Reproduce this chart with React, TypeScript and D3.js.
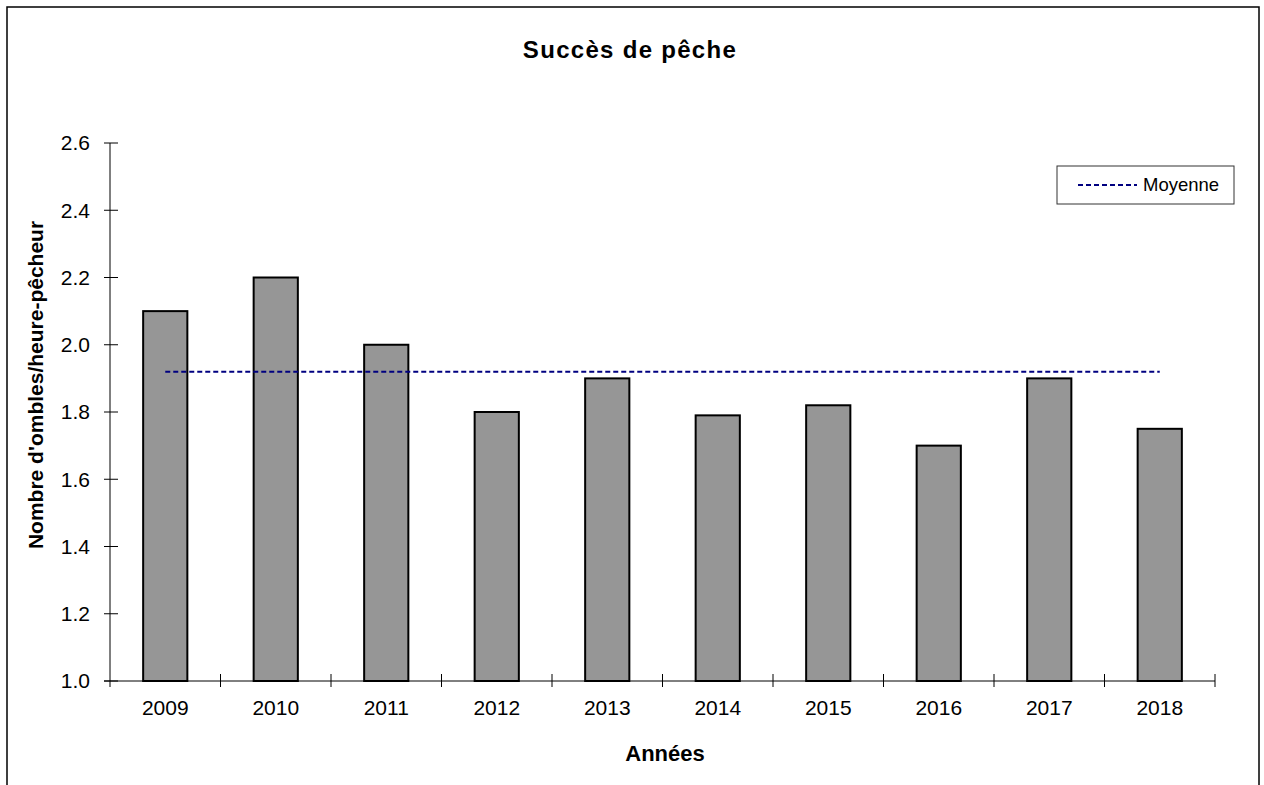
import React, { useEffect, useRef } from 'react';
import * as d3 from 'd3';

const years = ['2009', '2010', '2011', '2012', '2013', '2014', '2015', '2016', '2017', '2018'];
const catches = [2.1, 2.2, 2.0, 1.8, 1.9, 1.79, 1.82, 1.7, 1.9, 1.75];
const meanValue = 1.92;
const yTicks = [1.0, 1.2, 1.4, 1.6, 1.8, 2.0, 2.2, 2.4, 2.6];

export default function App() {
  const svgRef = useRef<SVGSVGElement>(null);

  useEffect(() => {
    if (!svgRef.current) return;
    drawChart();
  }, []);

  const drawChart = () => {
    const svg = d3.select(svgRef.current);
    svg.selectAll('*').remove();

    const W = 1264;
    const H = 785;
    const font = 'Liberation Sans, Arial, sans-serif';
    const left = 110;
    const right = 1215;
    const top = 143;
    const bottom = 681;

    svg.attr('width', W).attr('height', H);

    // Outer frame
    svg
      .append('rect')
      .attr('x', 7)
      .attr('y', 7)
      .attr('width', 1252)
      .attr('height', 800)
      .attr('fill', '#fff')
      .attr('stroke', '#000')
      .attr('stroke-width', 1.5);

    // Scales
    const x = d3.scaleBand<string>().domain(years).range([left, right]);
    const y = d3.scaleLinear().domain([1.0, 2.6]).range([bottom, top]);

    // Bars
    const barW = x.bandwidth() * 0.4;
    svg
      .selectAll('.bar')
      .data(catches)
      .enter()
      .append('rect')
      .attr('class', 'bar')
      .attr('x', (d, i) => (x(years[i]) as number) + x.bandwidth() / 2 - barW / 2)
      .attr('y', (d) => y(d))
      .attr('width', barW)
      .attr('height', (d) => y(1.0) - y(d))
      .attr('fill', '#969696')
      .attr('stroke', '#000')
      .attr('stroke-width', 2);

    // Y axis
    svg
      .append('line')
      .attr('x1', left)
      .attr('x2', left)
      .attr('y1', top)
      .attr('y2', bottom + 6)
      .attr('stroke', '#000');

    yTicks.forEach((t) => {
      svg
        .append('line')
        .attr('x1', left - 6)
        .attr('x2', left + 8)
        .attr('y1', y(t))
        .attr('y2', y(t))
        .attr('stroke', '#000');
      svg
        .append('text')
        .attr('x', left - 20)
        .attr('y', y(t))
        .attr('dy', '0.35em')
        .attr('text-anchor', 'end')
        .style('font-family', font)
        .style('font-size', '21px')
        .style('fill', '#000')
        .text(t.toFixed(1));
    });

    // X axis
    svg
      .append('line')
      .attr('x1', left - 6)
      .attr('x2', right)
      .attr('y1', bottom)
      .attr('y2', bottom)
      .attr('stroke', '#000');

    const edges = years.map((yr) => x(yr) as number).concat([right]);
    edges.forEach((ex, i) => {
      if (i === 0) return;
      svg
        .append('line')
        .attr('x1', ex)
        .attr('x2', ex)
        .attr('y1', bottom - 7)
        .attr('y2', bottom + 6)
        .attr('stroke', '#000');
    });

    years.forEach((yr) => {
      svg
        .append('text')
        .attr('x', (x(yr) as number) + x.bandwidth() / 2)
        .attr('y', 715)
        .attr('text-anchor', 'middle')
        .style('font-family', font)
        .style('font-size', '21px')
        .style('fill', '#000')
        .text(yr);
    });

    // Mean line
    svg
      .append('line')
      .attr('x1', (x(years[0]) as number) + x.bandwidth() / 2)
      .attr('x2', (x(years[years.length - 1]) as number) + x.bandwidth() / 2)
      .attr('y1', y(meanValue))
      .attr('y2', y(meanValue))
      .attr('stroke', '#000080')
      .attr('stroke-width', 2)
      .attr('stroke-dasharray', '5,3');

    // Legend
    svg
      .append('rect')
      .attr('x', 1057)
      .attr('y', 166)
      .attr('width', 177)
      .attr('height', 38)
      .attr('fill', '#fff')
      .attr('stroke', '#333')
      .attr('stroke-width', 1);
    svg
      .append('line')
      .attr('x1', 1078)
      .attr('x2', 1137)
      .attr('y1', 185)
      .attr('y2', 185)
      .attr('stroke', '#000080')
      .attr('stroke-width', 2)
      .attr('stroke-dasharray', '5,3');
    svg
      .append('text')
      .attr('x', 1143)
      .attr('y', 191)
      .style('font-family', font)
      .style('font-size', '18.5px')
      .style('fill', '#000')
      .text('Moyenne');

    // Title and labels
    svg
      .append('text')
      .attr('x', 630)
      .attr('y', 58)
      .attr('text-anchor', 'middle')
      .style('font-family', font)
      .style('font-size', '24px')
      .style('font-weight', 'bold')
      .style('letter-spacing', '1.3px')
      .text('Succès de pêche');

    svg
      .append('text')
      .attr('x', 665)
      .attr('y', 761)
      .attr('text-anchor', 'middle')
      .style('font-family', font)
      .style('font-size', '22px')
      .style('font-weight', 'bold')
      .text('Années');

    svg
      .append('text')
      .attr('transform', 'translate(43,385) rotate(-90)')
      .attr('text-anchor', 'middle')
      .style('font-family', font)
      .style('font-size', '21px')
      .style('font-weight', 'bold')
      .text("Nombre d'ombles/heure-pêcheur");
  };

  return <svg ref={svgRef} style={{ position: 'absolute', left: 0, top: 0 }}></svg>;
}
